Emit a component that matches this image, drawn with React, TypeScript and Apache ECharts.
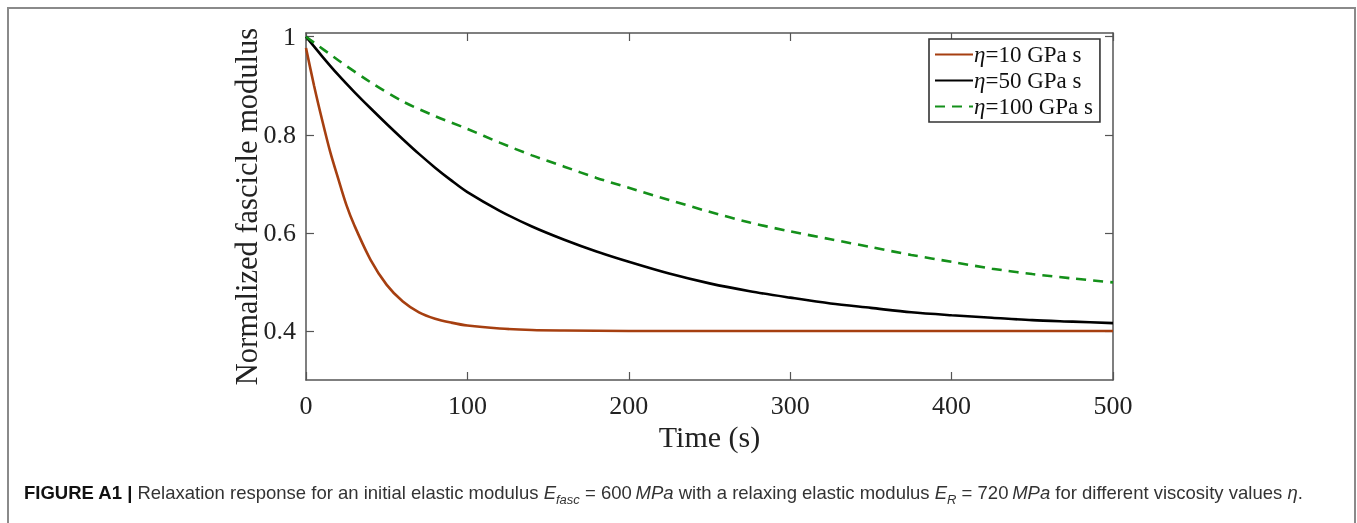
import React, { useEffect, useRef } from "react";
import * as echarts from "echarts";

// ---- data ----
const xTickValues = [0, 100, 200, 300, 400, 500];
const yTickValues = [0.4, 0.6, 0.8, 1];
const seriesNames = ["η=10 GPa s", "η=50 GPa s", "η=100 GPa s"];
const seriesColors = ["#A63F10", "#000000", "#14901A"];

const timeEta10 = [0, 5, 10, 15, 20, 25, 30, 40, 50, 60, 70, 80, 90, 100, 120, 140, 160, 200, 300, 400, 500];
const modEta10 = [0.977, 0.9, 0.83, 0.765, 0.71, 0.657, 0.615, 0.545, 0.494, 0.46, 0.438, 0.425, 0.417, 0.411, 0.405, 0.402, 0.401, 0.4, 0.4, 0.4, 0.4];

const timeEta50 = [0, 10, 20, 30, 40, 50, 60, 70, 80, 90, 100, 120, 140, 160, 180, 200, 225, 250, 275, 300, 325, 350, 375, 400, 425, 450, 475, 500];
const modEta50 = [1.0, 0.96, 0.922, 0.887, 0.854, 0.822, 0.791, 0.761, 0.733, 0.707, 0.683, 0.645, 0.613, 0.586, 0.562, 0.541, 0.517, 0.497, 0.481, 0.468, 0.456, 0.447, 0.438, 0.432, 0.427, 0.422, 0.419, 0.416];

const timeEta100 = [0, 20, 40, 60, 80, 100, 120, 140, 160, 180, 200, 225, 250, 275, 300, 325, 350, 375, 400, 425, 450, 475, 500];
const modEta100 = [1.0, 0.952, 0.907, 0.868, 0.838, 0.812, 0.784, 0.758, 0.735, 0.712, 0.692, 0.667, 0.643, 0.621, 0.603, 0.587, 0.571, 0.555, 0.541, 0.527, 0.516, 0.507, 0.499];

const serif = "'Liberation Serif', 'Times New Roman', serif";
const axisColor = "#555555";
const textColor = "#222222";

const App: React.FC = () => {
  const ref = useRef<HTMLDivElement>(null);

  useEffect(() => {
    if (!ref.current) return;
    const chart = echarts.init(ref.current, undefined, { renderer: "svg" });
    const pairs = (t: number[], v: number[]) => t.map((x, i) => [x, v[i]]);
    const times = [timeEta10, timeEta50, timeEta100];
    const mods = [modEta10, modEta50, modEta100];

    const baseX = {
      type: "value" as const,
      min: 0,
      max: 500,
      interval: 100,
      splitLine: { show: false },
      axisLine: { show: true, onZero: false, lineStyle: { color: axisColor, width: 1.5 } },
      axisTick: { show: true, inside: true, length: 8, lineStyle: { color: axisColor, width: 1.2 } },
    };
    const baseY = {
      type: "value" as const,
      min: 0.3,
      max: 1.0075,
      splitLine: { show: false },
      axisLine: { show: true, onZero: false, lineStyle: { color: axisColor, width: 1.5 } },
      axisTick: { show: true, inside: true, length: 8, customValues: yTickValues, lineStyle: { color: axisColor, width: 1.2 } },
    };

    chart.setOption({
      animation: false,
      backgroundColor: "transparent",
      grid: { left: 306, right: 244, top: 33, bottom: 143, containLabel: false },
      xAxis: [
        {
          ...baseX,
          position: "bottom",
          axisLabel: {
            show: true,
            margin: 12,
            fontFamily: serif,
            fontSize: 26,
            color: textColor,
            customValues: xTickValues,
          },
          name: "Time (s)",
          nameLocation: "middle",
          nameGap: 41,
          nameMoveOverlap: false,
          nameTextStyle: { fontFamily: serif, fontSize: 30, color: textColor },
        },
        {
          ...baseX,
          position: "top",
          axisLabel: { show: false },
        },
      ],
      yAxis: [
        {
          ...baseY,
          position: "left",
          axisLabel: {
            show: true,
            margin: 10,
            fontFamily: serif,
            fontSize: 26,
            color: textColor,
            customValues: yTickValues,
            formatter: (v: number) => (v === 1 ? "1" : v.toFixed(1)),
          },
          name: "Normalized fascicle modulus",
          nameLocation: "middle",
          nameGap: 44,
          nameMoveOverlap: false,
          nameTextStyle: { fontFamily: serif, fontSize: 30.5, color: textColor },
        },
        {
          ...baseY,
          position: "right",
          axisLabel: { show: false },
        },
      ],
      legend: {
        orient: "vertical",
        left: 929,
        top: 39,
        padding: [4, 7, 4, 5],
        itemGap: 3,
        itemWidth: 38,
        itemHeight: 14,
        borderColor: "#333333",
        borderWidth: 1.6,
        backgroundColor: "#ffffff",
        data: seriesNames,
        itemStyle: { color: "rgba(0,0,0,0)", borderWidth: 0, opacity: 0 },
        formatter: (name: string) => name.replace("η", "{i|η}"),
        textStyle: {
          fontFamily: serif,
          fontSize: 23,
          color: "#111111",
          padding: [0, 0, 0, -4],
          rich: {
            i: { fontFamily: serif, fontSize: 23, fontStyle: "italic", color: "#111111" },
          },
        },
      },
      series: seriesNames.map((name, k) => ({
        name,
        type: "line",
        xAxisIndex: 0,
        yAxisIndex: 0,
        data: pairs(times[k], mods[k]),
        symbol: "none",
        smooth: 0.3,
        color: seriesColors[k],
        lineStyle: {
          color: seriesColors[k],
          width: 2.6,
          type: k === 2 ? [10, 7] : "solid",
        },
        z: k === 2 ? 4 : 3 - k,
      })),
    });
    return () => chart.dispose();
  }, []);

  return (
    <>
      <div
        style={{
          position: "fixed",
          left: 7,
          top: 7,
          width: 1349,
          height: 600,
          boxSizing: "border-box",
          border: "2px solid #8a8a8a",
        }}
      />
      <div ref={ref} style={{ position: "fixed", left: 0, top: 0, width: 1357, height: 523 }} />
      <div
        style={{
          position: "fixed",
          left: 24,
          top: 481,
          fontFamily: "'Liberation Sans', Arial, sans-serif",
          fontSize: 18.5,
          color: "#333333",
          whiteSpace: "nowrap",
          lineHeight: "24px",
        }}
      >
        <b style={{ color: "#111" }}>FIGURE A1 |</b> Relaxation response for an initial elastic modulus{" "}
        <i>E</i>
        <sub style={{ fontSize: 13, lineHeight: 0 }}>
          <i>fasc</i>
        </sub>{" "}
        = 600{"\u2009"}
        <i>MPa</i> with a relaxing elastic modulus <i>E</i>
        <sub style={{ fontSize: 13, lineHeight: 0 }}>
          <i>R</i>
        </sub>{" "}
        = 720{"\u2009"}
        <i>MPa</i> for different viscosity values <i>η</i>.
      </div>
    </>
  );
};

export default App;
